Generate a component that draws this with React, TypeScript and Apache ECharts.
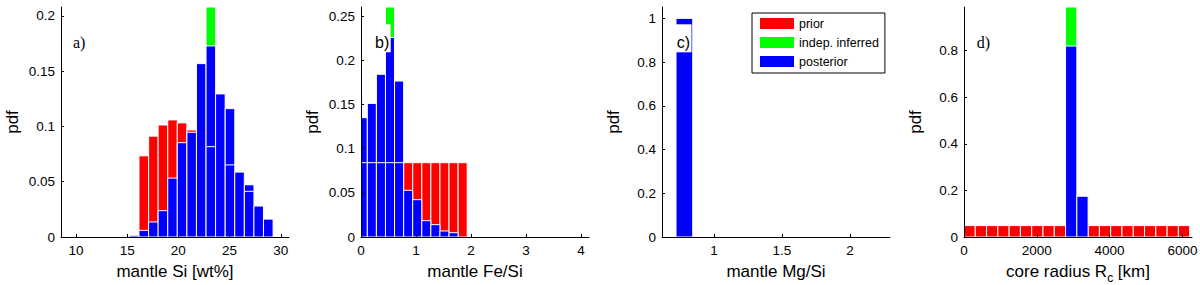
import React, { useEffect, useRef } from 'react';
import * as echarts from 'echarts';

// ---------- Panel a: mantle Si [wt%] ----------
const siBinCenters = [15.69, 16.62, 17.56, 18.49, 19.43, 20.36, 21.3, 22.23, 23.17, 24.1, 25.04, 25.97, 26.91, 27.84, 28.78];
const siBinWidth = 0.935;
const siPrior = [null, 0.0734, 0.0912, 0.1013, 0.1059, 0.1032, 0.0968, null, 0.0817, null, 0.0652, null, 0.0413, null, null];
const siIndep = [null, null, null, null, null, null, null, null, 0.21, null, null, null, null, null, null];
const siPosterior = [0.0015, 0.006, 0.0136, 0.0238, 0.0533, 0.0853, 0.0947, 0.1568, 0.1728, 0.1294, 0.1161, 0.0587, 0.0472, 0.028, 0.0162];
const siXTicks = [10, 15, 20, 25, 30];
const siYTicks = [0, 0.05, 0.1, 0.15, 0.2];

// ---------- Panel b: mantle Fe/Si ----------
const feBinCenters = [0.0325, 0.1975, 0.3625, 0.5275, 0.6925, 0.8575, 1.0225, 1.1875, 1.3525, 1.5175, 1.6825, 1.8475];
const feBinWidth = 0.165;
const fePrior = [0.0842, 0.0842, 0.0842, 0.0842, 0.0842, 0.0842, 0.0842, 0.0842, 0.0842, 0.0842, 0.0842, 0.0842];
const feIndep = [null, null, null, 0.27, null, null, null, null, null, null, null, null];
const fePosterior = [0.1352, 0.1514, 0.1843, 0.226, 0.1767, 0.0529, 0.0423, 0.0185, 0.014, 0.0068, 0.0049, null];
const feXTicks = [0, 1, 2, 3, 4];
const feYTicks = [0, 0.05, 0.1, 0.15, 0.2, 0.25];

// ---------- Panel c: mantle Mg/Si ----------
const mgBinCenters = [0.7825];
const mgBinWidth = 0.123;
const mgPrior = [null];
const mgIndep = [null];
const mgPosterior = [1.0];
const mgXTicks = [1, 1.5, 2];
const mgYTicks = [0, 0.2, 0.4, 0.6, 0.8, 1];

// ---------- Panel d: core radius Rc [km] ----------
const rcBinCenters = [155, 465, 775, 1085, 1395, 1705, 2015, 2325, 2635, 2945, 3255, 3565, 3875, 4185, 4495, 4805, 5115, 5425, 5735, 6045];
const rcBinWidth = 310;
const rcPrior = [0.049, 0.049, 0.049, 0.049, 0.049, 0.049, 0.049, 0.049, 0.049, null, null, 0.049, 0.049, 0.049, 0.049, 0.049, 0.049, 0.049, 0.049, 0.049];
const rcIndep = [null, null, null, null, null, null, null, null, null, 0.99, null, null, null, null, null, null, null, null, null, null];
const rcPosterior = [null, null, null, null, null, null, null, null, null, 0.82, 0.175, null, null, null, null, null, null, null, null, null];
const rcXTicks = [0, 2000, 4000, 6000];
const rcYTicks = [0, 0.2, 0.4, 0.6, 0.8];

const legendNames = ['prior', 'indep. inferred', 'posterior'];
const colors = ['#ff0000', '#00ff00', '#0000ff'];

const SANS = '"Liberation Sans", Arial, Helvetica, sans-serif';
const SERIF = '"Liberation Serif", "Times New Roman", serif';

function pairs(centers: number[], values: (number | null)[]) {
  const out: number[][] = [];
  centers.forEach((c, i) => {
    const v = values[i];
    if (v !== null && v !== undefined) out.push([c, v]);
  });
  return out;
}

function barRenderer(width: number) {
  return (params: any, api: any) => {
    const c = api.value(0);
    const v = api.value(1);
    const p0 = api.coord([c - width / 2, 0]);
    const p1 = api.coord([c + width / 2, v]);
    const cs = params.coordSys;
    const shape = echarts.graphic.clipRectByRect(
      { x: p0[0], y: p1[1], width: p1[0] - p0[0], height: p0[1] - p1[1] },
      { x: cs.x, y: cs.y, width: cs.width, height: cs.height }
    );
    if (!shape) return null;
    return {
      type: 'rect',
      shape,
      style: { fill: api.visual('color'), stroke: '#ffffff', lineWidth: 1 },
    };
  };
}

function edgeRenderer(width: number) {
  return (params: any, api: any) => {
    const c = api.value(0);
    const pr = api.value(1);
    const po = api.value(2);
    if (!(pr < po)) return null;
    const a = api.coord([c - width / 2, pr]);
    const b = api.coord([c + width / 2, pr]);
    const cs = params.coordSys;
    const x1 = Math.max(a[0] + 0.5, cs.x);
    const x2 = Math.min(b[0] - 0.5, cs.x + cs.width);
    return {
      type: 'line',
      shape: { x1, y1: a[1], x2, y2: b[1] },
      style: { stroke: '#ffffff', lineWidth: 1 },
    };
  };
}

const panels = [
  {
    centers: siBinCenters, width: siBinWidth, prior: siPrior, indep: siIndep, post: siPosterior,
    xTicks: siXTicks, yTicks: siYTicks, xMin: 8.54, xMax: 30.8, yMax: 0.208,
    xName: 'mantle Si [wt%]', left: 61, tag: 'a)', tagFont: SERIF, tagX: 70,
  },
  {
    centers: feBinCenters, width: feBinWidth, prior: fePrior, indep: feIndep, post: fePosterior,
    xTicks: feXTicks, yTicks: feYTicks, xMin: 0, xMax: 4.145, yMax: 0.2606,
    xName: 'mantle Fe/Si', left: 361, tag: 'b)', tagFont: SANS, tagX: 372,
  },
  {
    centers: mgBinCenters, width: mgBinWidth, prior: mgPrior, indep: mgIndep, post: mgPosterior,
    xTicks: mgXTicks, yTicks: mgYTicks, xMin: 0.618, xMax: 2.294, yMax: 1.052,
    xName: 'mantle Mg/Si', left: 662, tag: 'c)', tagFont: SANS, tagX: 673.7,
  },
  {
    centers: rcBinCenters, width: rcBinWidth, prior: rcPrior, indep: rcIndep, post: rcPosterior,
    xTicks: rcXTicks, yTicks: rcYTicks, xMin: 0, xMax: 6264, yMax: 0.9876,
    xName: '{n|core radius R}{sub|c}{n| [km]}', left: 964, tag: 'd)', tagFont: SERIF, tagX: 973.7,
  },
];

export default function App() {
  const ref = useRef<HTMLDivElement>(null);

  useEffect(() => {
    if (!ref.current) return;
    const chart = echarts.init(ref.current, undefined, { renderer: 'svg' });

    const grid: any[] = [];
    const xAxis: any[] = [];
    const yAxis: any[] = [];
    const series: any[] = [];
    const graphic: any[] = [];

    panels.forEach((p, i) => {
      grid.push({ left: p.left, top: 7, width: 228, height: 230, containLabel: false, outerBoundsMode: 'none' });
      xAxis.push({
        type: 'value', gridIndex: i, min: p.xMin, max: p.xMax, z: 10,
        name: p.xName, nameLocation: 'middle', nameGap: 26,
        nameTextStyle: {
          fontFamily: SANS, fontSize: 17, color: '#000', verticalAlign: 'top',
          rich: {
            n: { fontFamily: SANS, fontSize: 17, lineHeight: 17, color: '#000', verticalAlign: 'top' },
            sub: { fontFamily: SANS, fontSize: 12, lineHeight: 12, color: '#000', verticalAlign: 'top', padding: [9, 0, 0, 0] },
          },
        },
        axisLine: { show: true, onZero: false, lineStyle: { color: '#000', width: 1 } },
        axisTick: { show: true, inside: true, length: 3, customValues: p.xTicks, lineStyle: { color: '#000' } },
        axisLabel: {
          show: true, customValues: p.xTicks, margin: 6, fontFamily: SANS, fontSize: 13.5, color: '#000',
          formatter: (v: number) => String(v),
        },
        splitLine: { show: false },
      });
      yAxis.push({
        type: 'value', gridIndex: i, min: 0, max: p.yMax, z: 10,
        name: 'pdf', nameLocation: 'middle', nameGap: 40,
        nameTextStyle: { fontFamily: SANS, fontSize: 17, color: '#000' },
        axisLine: { show: true, onZero: false, lineStyle: { color: '#000', width: 1 } },
        axisTick: { show: true, inside: true, length: 3, customValues: p.yTicks, lineStyle: { color: '#000' } },
        axisLabel: {
          show: true, customValues: p.yTicks, margin: 6, fontFamily: SANS, fontSize: 13.5, color: '#000',
          formatter: (v: number) => String(v),
        },
        splitLine: { show: false },
      });

      const sets = [p.prior, p.indep, p.post];
      sets.forEach((vals, k) => {
        const data = pairs(p.centers, vals);
        if (!data.length) return;
        series.push({
          type: 'custom', name: legendNames[k], xAxisIndex: i, yAxisIndex: i,
          data, encode: { x: 0, y: 1 }, renderItem: barRenderer(p.width),
          itemStyle: { color: colors[k] }, silent: true, z: 2,
        });
      });
      const edges: number[][] = [];
      p.centers.forEach((c, j) => {
        const pr = p.prior[j];
        const po = p.post[j];
        if (pr !== null && po !== null) edges.push([c, pr, po]);
      });
      if (edges.length) {
        series.push({
          type: 'custom', name: 'prior-edge', xAxisIndex: i, yAxisIndex: i,
          data: edges, dimensions: ['x', 'prior', 'post'], encode: { x: 0, y: 1 },
          renderItem: edgeRenderer(p.width), silent: true, z: 3,
        });
      }

      graphic.push({
        type: 'text', x: p.tagX, y: 24.3, z: 100,
        style: {
          text: p.tag, font: `16px ${p.tagFont}`, fill: '#000',
          backgroundColor: '#ffffff', padding: [10, 1.5, 2, 3], align: 'left', verticalAlign: 'top',
        },
      });
    });

    chart.setOption({
      animation: false,
      backgroundColor: '#ffffff',
      textStyle: { fontFamily: SANS },
      grid, xAxis, yAxis, series, graphic,
      legend: {
        show: true, orient: 'vertical', left: 752, top: 13,
        itemWidth: 34, itemHeight: 11, itemGap: 6, itemTextGap: 4,
        padding: [4, 6, 5, 8], borderColor: '#000', borderWidth: 1, backgroundColor: '#ffffff',
        icon: 'rect', selectedMode: false, z: 50,
        textStyle: { fontFamily: SANS, fontSize: 12.5, lineHeight: 11, color: '#000' },
        data: legendNames.map((n, k) => ({ name: n, icon: 'rect', itemStyle: { color: colors[k] } })),
      },
    });

    return () => chart.dispose();
  }, []);

  return <div ref={ref} style={{ position: 'fixed', left: 0, top: 0, width: 1200, height: 285 }} />;
}
